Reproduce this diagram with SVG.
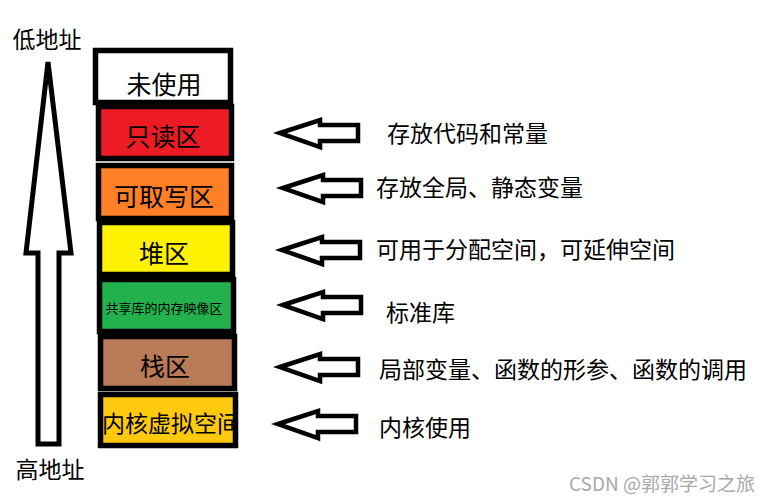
<svg xmlns="http://www.w3.org/2000/svg" width="776" height="503" viewBox="0 0 776 503">
<style>
text{font-family:"Noto Sans CJK SC","Microsoft YaHei",sans-serif;fill:#000}
.box{stroke:#000;stroke-width:5.5}
.lbl{font-size:25px;text-anchor:middle;dominant-baseline:central}
.desc{font-size:23px;dominant-baseline:central}
.arr{fill:#fff;stroke:#000;stroke-width:4.5;stroke-linejoin:miter}
</style>
<defs>
<path id="la" d="M0 0 L40 -13 L40 -8 L78 -8 L78 8 L40 8 L40 14 Z"/>
<clipPath id="kclip"><rect x="102" y="397" width="131" height="47"/></clipPath>
</defs>
<rect width="776" height="503" fill="#fff"/>

<g id="axis">
<polygon points="48,62 71,253 59,253 59,444 38,444 38,253 26,253" fill="#fff" stroke="#000" stroke-width="5" stroke-linejoin="miter"/>
<text class="desc" x="47" y="38" text-anchor="middle">低地址</text>
<text class="desc" x="50" y="468" text-anchor="middle">高地址</text>
</g>

<g id="unused">
<rect class="box" x="95.5" y="50.5" width="135" height="52" fill="#fff"/>
<text class="lbl" x="164" y="83">未使用</text>
</g>
<g id="readonly">
<rect class="box" x="98.5" y="106.5" width="133" height="52" fill="#ED1C24"/>
<text class="lbl" x="163" y="135">只读区</text>
</g>
<g id="rw">
<rect class="box" x="98.5" y="165.5" width="133" height="53" fill="#FF7F27"/>
<text class="lbl" x="164" y="195">可取写区</text>
</g>
<g id="heap">
<rect class="box" x="99.5" y="222.5" width="133" height="52" fill="#FFF200"/>
<text class="lbl" x="164" y="252">堆区</text>
</g>
<g id="shared">
<rect class="box" x="99.5" y="279.5" width="134" height="52" fill="#22B14C"/>
<text class="lbl" x="164" y="307" style="font-size:13px">共享库的内存映像区</text>
</g>
<g id="stack">
<rect class="box" x="100.5" y="336.5" width="134" height="52" fill="#B97A57"/>
<text class="lbl" x="165" y="365">栈区</text>
</g>
<g id="kernel">
<rect class="box" x="100.5" y="394.5" width="135" height="51" fill="#FFC90E"/>
<text class="desc" x="102" y="422" clip-path="url(#kclip)">内核虚拟空间</text>
</g>

<g id="connectors">
<use href="#la" class="arr" x="280" y="133"/>
<use href="#la" class="arr" x="283" y="188"/>
<use href="#la" class="arr" x="282" y="250"/>
<use href="#la" class="arr" x="283" y="305"/>
<use href="#la" class="arr" x="280" y="367"/>
<use href="#la" class="arr" x="278" y="424"/>
</g>

<g id="descriptions">
<text class="desc" x="387" y="132">存放代码和常量</text>
<text class="desc" x="376" y="186">存放全局、静态变量</text>
<text class="desc" x="376" y="248">可用于分配空间，可延伸空间</text>
<text class="desc" x="386" y="311">标准库</text>
<text class="desc" x="379" y="368">局部变量、函数的形参、函数的调用</text>
<text class="desc" x="379" y="426">内核使用</text>
</g>

<text x="569" y="491" style="font-size:19px;fill:#a8a8a8">CSDN @郭郭学习之旅</text>
</svg>
